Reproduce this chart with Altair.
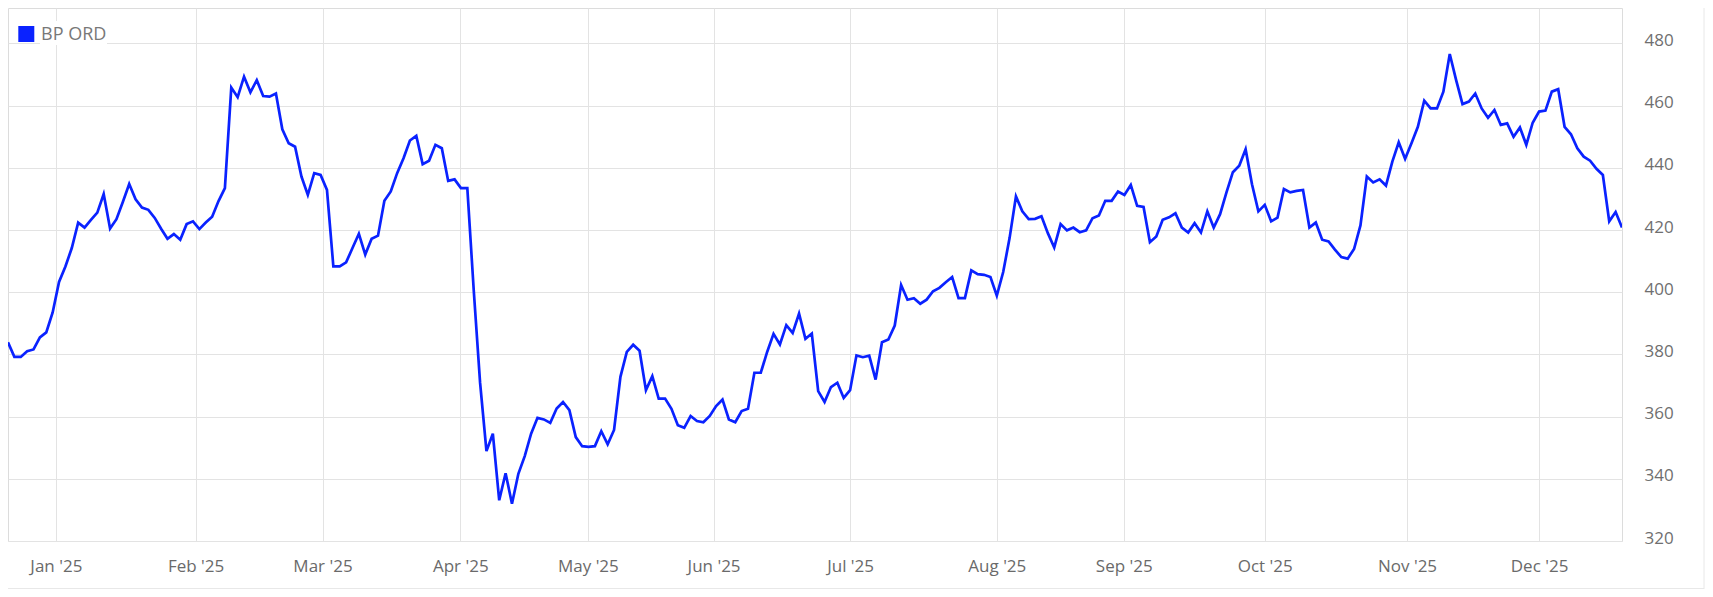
import json
import altair as alt
import pandas as pd

series_name = "BP ORD"

prices = [
    383.9, 379.2, 379.2, 381.0, 381.6, 385.5, 387.1, 393.5, 403.3, 408.3,
    414.2, 422.4, 420.8, 423.3, 425.6, 431.6, 420.5, 423.5, 429.0, 434.8,
    429.9, 427.2, 426.5, 423.9, 420.4, 417.2, 418.7, 416.9, 421.9, 422.8,
    420.3, 422.4, 424.3, 429.3, 433.5, 465.8, 462.7, 469.3, 464.3, 468.2,
    463.1, 462.9, 463.9, 452.4, 447.9, 446.8, 437.2, 431.3, 438.3, 437.7,
    432.9, 408.3, 408.3, 409.6, 414.2, 418.8, 412.1, 417.2, 418.2, 429.4,
    432.4, 438.3, 443.1, 448.8, 450.3, 441.2, 442.3, 447.4, 446.3, 435.8,
    436.3, 433.5, 433.5, 400.8, 370.9, 348.9, 354.5, 333.1, 341.8, 332.0,
    341.6, 347.3, 354.5, 359.6, 359.1, 358.0, 362.6, 364.7, 362.1, 353.4,
    350.5, 350.3, 350.5, 355.3, 351.1, 355.7, 372.8, 380.8, 383.1, 381.2,
    368.5, 373.0, 365.8, 365.8, 362.5, 357.2, 356.4, 360.2, 358.6, 358.2,
    360.2, 363.4, 365.5, 359.1, 358.2, 361.8, 362.5, 374.1, 374.1, 380.8,
    386.6, 383.2, 389.4, 386.9, 393.1, 385.0, 386.7, 368.2, 364.7, 369.5,
    370.9, 366.0, 368.5, 379.7, 379.1, 379.6, 371.9, 383.9, 384.8, 389.3,
    402.3, 397.6, 398.1, 396.3, 397.6, 400.3, 401.4, 403.2, 404.9, 398.1,
    398.1, 407.0, 405.8, 405.6, 404.9, 398.9, 406.5, 417.4, 430.8, 426.0,
    423.5, 423.6, 424.4, 419.0, 414.4, 421.9, 419.9, 420.8, 419.3, 419.9,
    423.8, 424.7, 429.4, 429.4, 432.4, 431.3, 434.5, 427.8, 427.4, 416.1,
    417.9, 423.3, 424.1, 425.4, 420.8, 419.2, 422.2, 419.2, 426.0, 420.8,
    425.1, 432.1, 438.6, 440.7, 446.0, 434.7, 426.0, 428.1, 422.8, 424.0,
    433.2, 432.1, 432.6, 432.9, 420.8, 422.4, 416.9, 416.3, 413.7, 411.3,
    410.8, 413.9, 421.5, 437.2, 435.3, 436.3, 434.3, 442.0, 448.2, 442.9,
    447.9, 453.2, 461.6, 459.1, 459.1, 464.5, 476.6, 468.2, 460.5, 461.3,
    463.9, 459.1, 456.1, 458.6, 453.8, 454.3, 450.0, 453.0, 447.4, 454.5,
    458.1, 458.4, 464.5, 465.3, 453.2, 450.8, 446.3, 443.6, 442.3, 439.7,
    437.7, 422.8, 425.8, 420.8,
]

month_labels = ["Jan '25", "Feb '25", "Mar '25", "Apr '25", "May '25", "Jun '25",
                "Jul '25", "Aug '25", "Sep '25", "Oct '25", "Nov '25", "Dec '25"]
# month boundaries expressed in trading-day index units
month_ticks = [7.5, 29.4, 49.3, 70.9, 90.9, 110.6, 132.0, 155.0, 174.9, 197.0, 219.3, 240.0]
y_ticks = [320, 340, 360, 380, 400, 420, 440, 460, 480]

BLUE = "#0a22ff"
GRID = "#e3e3e3"
FONT = "Open Sans"

df = pd.DataFrame({"day": list(range(len(prices))), "price": prices})
label_expr = f"{json.dumps(month_labels)}[indexof({json.dumps(month_ticks)}, datum.value)]"

line = alt.Chart(df).mark_line(color=BLUE, strokeWidth=2.7, clip=True).encode(
    x=alt.X(
        "day:Q",
        scale=alt.Scale(domain=[0, len(prices) - 1], nice=False, zero=False),
        axis=alt.Axis(
            values=month_ticks, labelExpr=label_expr, title=None, grid=True,
            gridColor=GRID, domain=False, ticks=False, tickSize=0,
            labelPadding=17, labelFontSize=17, labelColor="#6a6a6a",
            labelFont=FONT, labelFlush=False, labelOverlap=False,
        ),
    ),
    y=alt.Y(
        "price:Q",
        scale=alt.Scale(domain=[320, 491.4], nice=False, zero=False),
        axis=alt.Axis(
            orient="right", values=y_ticks, title=None, grid=True,
            gridColor=GRID, domain=False, ticks=False, tickSize=0,
            labelPadding=22, labelAlign="left", labelFontSize=17,
            labelColor="#6f6f6f", labelFont=FONT, labelOffset=-3,
        ),
    ),
)

legend_df = pd.DataFrame({"name": [series_name]})
legend_bg = alt.Chart(legend_df).mark_rect(color="white").encode(
    x=alt.value(32), x2=alt.value(99), y=alt.value(13), y2=alt.value(37)
)
legend_sq = alt.Chart(legend_df).mark_square(color=BLUE, size=256, opacity=1).encode(
    x=alt.value(18.3), y=alt.value(26)
)
legend_txt = alt.Chart(legend_df).mark_text(
    align="left", baseline="middle", fontSize=18, color="#787878", font=FONT
).encode(x=alt.value(33), y=alt.value(27), text="name:N")

frame_df = pd.DataFrame({"k": [0]})
frame_r = alt.Chart(frame_df).mark_rule(color="#e8e8e8", strokeWidth=1).encode(
    x=alt.value(1696), y=alt.value(0), y2=alt.value(581)
)
frame_b = alt.Chart(frame_df).mark_rule(color="#e8e8e8", strokeWidth=1).encode(
    x=alt.value(0), x2=alt.value(1696), y=alt.value(580.5)
)

chart = alt.layer(line, legend_bg, legend_sq, legend_txt, frame_r, frame_b).properties(
    width=1614, height=533,
    autosize=alt.AutoSizeParams(type="none"),
    padding={"left": 0, "top": 0, "right": 83, "bottom": 48},
    background="white",
).configure_view(stroke="#dcdcdc", strokeWidth=1)

chart.save("out.html", embed_options={"renderer": "svg", "actions": False})
